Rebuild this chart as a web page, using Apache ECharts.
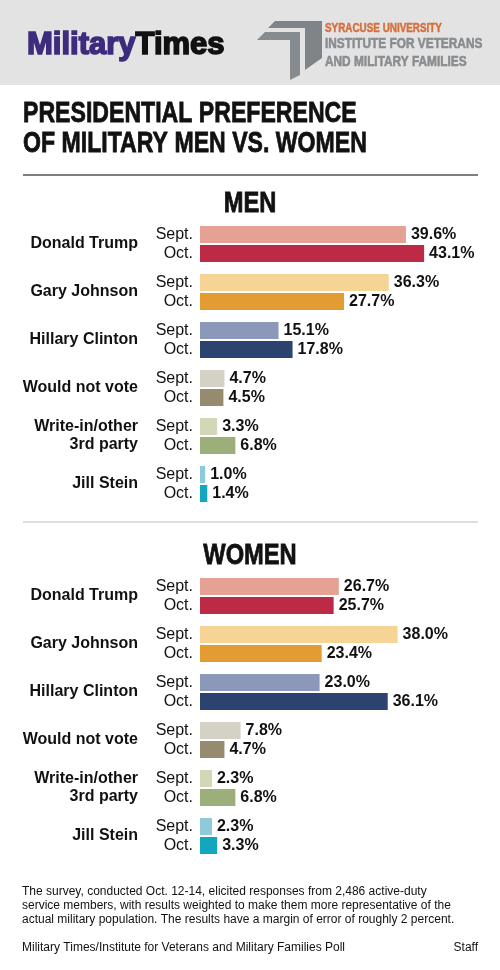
<!DOCTYPE html>
<html>
<head>
<meta charset="utf-8">
<script src="https://cdn.jsdelivr.net/npm/echarts@6/dist/echarts.min.js"></script>
<style>
html,body{margin:0;padding:0;background:#fff;}
#chart{width:500px;height:970px;}
</style>
</head>
<body>
<div id="chart"></div>
<script>
// ---- Data ----
const candidates = ['Donald Trump', 'Gary Johnson', 'Hillary Clinton', 'Would not vote', 'Write-in/other\n3rd party', 'Jill Stein'];
const periods = ['Sept.', 'Oct.'];
const menSept   = [39.6, 36.3, 15.1, 4.7, 3.3, 1.0];
const menOct    = [43.1, 27.7, 17.8, 4.5, 6.8, 1.4];
const womenSept = [26.7, 38.0, 23.0, 7.8, 2.3, 2.3];
const womenOct  = [25.7, 23.4, 36.1, 4.7, 6.8, 3.3];
const septColors = ['#E5A194', '#F6D496', '#8C98B9', '#D5D1C4', '#D3D7B7', '#8FCADB'];
const octColors  = ['#BC2A45', '#E39C33', '#2C436F', '#968A70', '#9CAE79', '#13A6BF'];

const FONT = '"Liberation Sans", Arial, Helvetica, sans-serif';

function items(vals, colors) {
  return vals.map((v, i) => ({ value: v, itemStyle: { color: colors[i] } }));
}

const chart = echarts.init(document.getElementById('chart'), null, { renderer: 'canvas' });

function yAxes(gridIndex) {
  return [
    {
      type: 'category', gridIndex, data: candidates, inverse: true, position: 'left',
      axisLine: { show: false }, axisTick: { show: false }, splitLine: { show: false },
      axisLabel: { margin: 62, fontFamily: FONT, fontWeight: 'bold', fontSize: 16, color: '#111', lineHeight: 18, align: 'right' }
    },
    {
      type: 'category', gridIndex, data: candidates, inverse: true, position: 'left',
      axisLine: { show: false }, axisTick: { show: false }, splitLine: { show: false },
      axisLabel: { margin: 7, fontFamily: FONT, fontSize: 16, color: '#111', lineHeight: 19, align: 'right',
        formatter: () => periods.join('\n') }
    }
  ];
}

const valueLabel = {
  show: true, position: 'right', distance: 5,
  fontFamily: FONT, fontWeight: 'bold', fontSize: 16, color: '#111',
  formatter: p => p.value.toFixed(1) + '%'
};

function barSeries(name, xi, yi, vals, colors) {
  return {
    type: 'bar', name, xAxisIndex: xi, yAxisIndex: yi, data: items(vals, colors),
    barWidth: 17, barGap: '12%', label: valueLabel, silent: true
  };
}

function condensed(x, y, text, size, fill, scaleX, align, weight) {
  return { type: 'text', x, y, scaleX, style: { text, align: align || 'left', verticalAlign: 'middle',
    fontFamily: FONT, fontWeight: 'bold', fontSize: size, fill, stroke: fill, lineWidth: weight || 0.8 } };
}

const option = {
  animation: false,
  backgroundColor: '#fff',
  grid: [
    { left: 200, top: 220, width: 260, height: 288 },
    { left: 200, top: 572, width: 260, height: 288 }
  ],
  xAxis: [
    { type: 'value', gridIndex: 0, min: 0, max: 50, show: false },
    { type: 'value', gridIndex: 1, min: 0, max: 50, show: false }
  ],
  yAxis: [...yAxes(0), ...yAxes(1)],
  series: [
    barSeries('Men Sept.', 0, 0, menSept, septColors),
    barSeries('Men Oct.', 0, 0, menOct, octColors),
    barSeries('Women Sept.', 1, 2, womenSept, septColors),
    barSeries('Women Oct.', 1, 2, womenOct, octColors)
  ],
  graphic: [
    { type: 'rect', shape: { x: 0, y: 0, width: 500, height: 85 }, style: { fill: '#E3E3E3' }, silent: true },
    { type: 'text', x: 27, y: 45, scaleX: 1.0, style: {
        text: '{a|Military}{b|Times}', verticalAlign: 'middle',
        rich: {
          a: { fontFamily: FONT, fontWeight: 'bold', fontSize: 31, fill: '#3D2B7E', stroke: '#3D2B7E', lineWidth: 1.6 },
          b: { fontFamily: FONT, fontWeight: 'bold', fontSize: 31, fill: '#111', stroke: '#111', lineWidth: 1.6 }
        } } },
    { type: 'polygon', shape: { points: [[268, 28], [275, 21], [322, 21], [322, 58], [305, 70], [305, 28]] }, style: { fill: '#7F8488' } },
    { type: 'polygon', shape: { points: [[257, 40], [265, 32], [300, 32], [300, 75], [290, 80], [290, 40]] }, style: { fill: '#868B8F' } },
    condensed(325, 28, 'SYRACUSE UNIVERSITY', 13, '#D66F3D', 0.76, 'left', 0.5),
    condensed(325, 44, 'INSTITUTE FOR VETERANS', 15, '#8A8D90', 0.79, 'left', 0.6),
    condensed(325, 62, 'AND MILITARY FAMILIES', 15, '#8A8D90', 0.79, 'left', 0.6),

    condensed(23, 114, 'PRESIDENTIAL PREFERENCE', 30, '#111', 0.77),
    condensed(23, 143.5, 'OF MILITARY MEN VS. WOMEN', 30, '#111', 0.77),
    { type: 'line', shape: { x1: 23, y1: 175, x2: 478, y2: 175 }, style: { stroke: '#555', lineWidth: 1.5 } },

    condensed(250, 204, 'MEN', 30, '#111', 0.79, 'center'),
    { type: 'line', shape: { x1: 23, y1: 522, x2: 478, y2: 522 }, style: { stroke: '#BBB', lineWidth: 1 } },
    condensed(250, 556, 'WOMEN', 30, '#111', 0.79, 'center'),

    { type: 'text', x: 22, y: 885, style: {
        text: 'The survey, conducted Oct. 12-14, elicited responses from 2,486 active-duty\nservice members, with results weighted to make them more representative of the\nactual military population. The results have a margin of error of roughly 2 percent.',
        lineHeight: 14, fontFamily: FONT, fontSize: 12, fill: '#111' } },
    { type: 'text', x: 22, y: 948, style: { text: 'Military Times/Institute for Veterans and Military Families Poll', verticalAlign: 'middle', fontFamily: FONT, fontSize: 12, fill: '#111' } },
    { type: 'text', x: 478, y: 948, style: { text: 'Staff', align: 'right', verticalAlign: 'middle', fontFamily: FONT, fontSize: 12, fill: '#111' } }
  ]
};
chart.setOption(option);
</script>
</body>
</html>
